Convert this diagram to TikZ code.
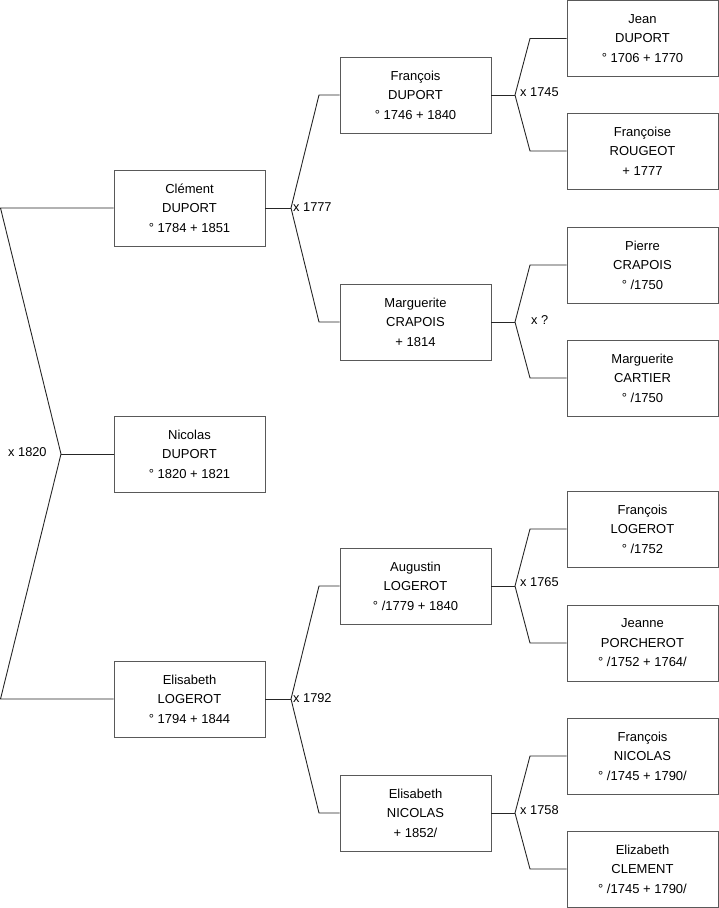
\documentclass[tikz,border=0pt]{standalone}
\usepackage{fontspec}
\setmainfont{Liberation Sans}
\begin{document}
\begin{tikzpicture}[x=1pt,y=-1pt,
  person/.style={draw=black!65,line width=0.9pt,minimum width=151pt,minimum height=76pt,align=center,inner sep=0pt,font=\fontsize{13}{19.5}\selectfont},
  link/.style={draw=black!85,line width=0.9pt},
  mar/.style={anchor=west,inner sep=0pt,font=\fontsize{12.8}{15}\selectfont}]
\useasboundingbox (0,0) rectangle (719,908);
% generation 1
\node[person] (clement) at (189.5,208) {Clément\\DUPORT\\° 1784 + 1851};
\node[person] (nicolas) at (189.5,454) {Nicolas\\DUPORT\\° 1820 + 1821};
\node[person] (elisabethL) at (189.5,699) {Elisabeth\\LOGEROT\\° 1794 + 1844};
% generation 2
\node[person] (francoisD) at (415.5,95) {François\\DUPORT\\° 1746 + 1840};
\node[person] (margueriteC) at (415.5,322) {Marguerite\\CRAPOIS\\+ 1814};
\node[person] (augustin) at (415.5,586) {Augustin\\LOGEROT\\° /1779 + 1840};
\node[person] (elisabethN) at (415.5,813) {Elisabeth\\NICOLAS\\+ 1852/};
% generation 3
\node[person] (jean) at (642.5,38.5) {Jean\\DUPORT\\° 1706 + 1770};
\node[person] (francoiseR) at (642.5,151) {Françoise\\ROUGEOT\\+ 1777};
\node[person] (pierre) at (642.5,265) {Pierre\\CRAPOIS\\° /1750};
\node[person] (margueriteCa) at (642.5,378) {Marguerite\\CARTIER\\° /1750};
\node[person] (francoisL) at (642.5,529) {François\\LOGEROT\\° /1752};
\node[person] (jeanne) at (642.5,643) {Jeanne\\PORCHEROT\\° /1752 + 1764/};
\node[person] (francoisN) at (642.5,756) {François\\NICOLAS\\° /1745 + 1790/};
\node[person] (elizabethC) at (642.5,869) {Elizabeth\\CLEMENT\\° /1745 + 1790/};
% junction coordinates
\coordinate (a0t) at (0.5,208);
\coordinate (a0) at (61,454);
\coordinate (a0b) at (0.5,699);
\coordinate (b1) at (291,208);
\coordinate (b1t) at (319,95);
\coordinate (b1b) at (319,322);
\coordinate (b2) at (291,699);
\coordinate (b2t) at (319,586);
\coordinate (b2b) at (319,813);
\coordinate (c1) at (515,95);
\coordinate (c1t) at (530,38.5);
\coordinate (c1b) at (530,151);
\coordinate (c2) at (515,322);
\coordinate (c2t) at (530,265);
\coordinate (c2b) at (530,378);
\coordinate (c3) at (515,586);
\coordinate (c3t) at (530,529);
\coordinate (c3b) at (530,643);
\coordinate (c4) at (515,813);
\coordinate (c4t) at (530,756);
\coordinate (c4b) at (530,869);
% connectors
\draw[link] (clement.west) -- (a0t) -- (a0) -- (a0b) -- (elisabethL.west);
\draw[link] (a0) -- (nicolas.west);
\draw[link] (francoisD.west) -- (b1t) -- (b1) -- (b1b) -- (margueriteC.west);
\draw[link] (clement.east) -- (b1);
\draw[link] (augustin.west) -- (b2t) -- (b2) -- (b2b) -- (elisabethN.west);
\draw[link] (elisabethL.east) -- (b2);
\draw[link] (jean.west) -- (c1t) -- (c1) -- (c1b) -- (francoiseR.west);
\draw[link] (francoisD.east) -- (c1);
\draw[link] (pierre.west) -- (c2t) -- (c2) -- (c2b) -- (margueriteCa.west);
\draw[link] (margueriteC.east) -- (c2);
\draw[link] (francoisL.west) -- (c3t) -- (c3) -- (c3b) -- (jeanne.west);
\draw[link] (augustin.east) -- (c3);
\draw[link] (francoisN.west) -- (c4t) -- (c4) -- (c4b) -- (elizabethC.west);
\draw[link] (elisabethN.east) -- (c4);
% marriage labels
\node[mar] (m0) at (8,452) {x 1820};
\node[mar] (m1) at (293,207) {x 1777};
\node[mar] (m2) at (293,698) {x 1792};
\node[mar] (m3) at (520,92) {x 1745};
\node[mar] (m4) at (531,320) {x ?};
\node[mar] (m5) at (520,582) {x 1765};
\node[mar] (m6) at (520,810) {x 1758};
\end{tikzpicture}
\end{document}
